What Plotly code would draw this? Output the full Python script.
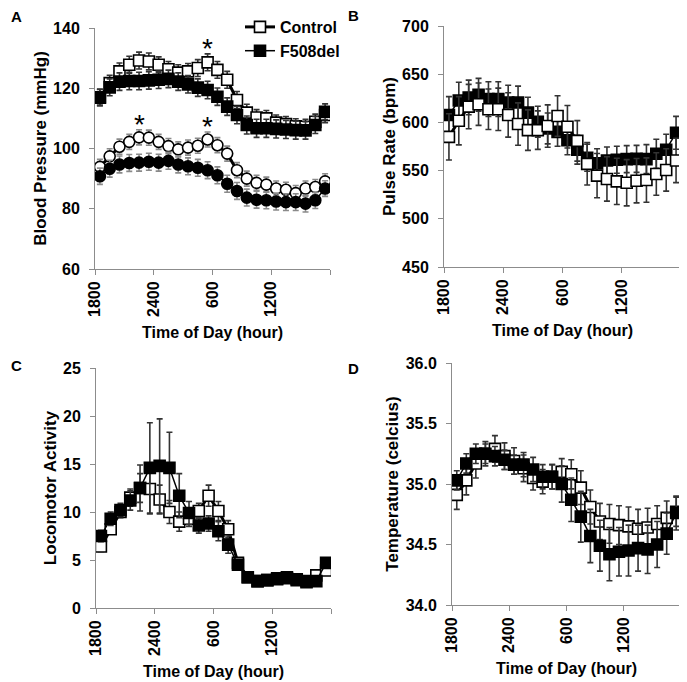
import plotly.graph_objects as go
from plotly.subplots import make_subplots

# hours since 1800, one reading per hour
hours = [i + 0.5 for i in range(24)]
tick_pos = [0, 6, 12, 18, 24]
tick_txt = ["1800", "2400", "600", "1200", ""]

# A - blood pressure (mmHg)
sys_ctrl = [117.0, 121.7, 125.6, 127.8, 129.2, 128.9, 127.8, 126.3, 125.2, 125.6, 126.7, 128.6,
            126.1, 122.8, 116.1, 111.9, 110.3, 110.0, 108.6, 108.1, 107.4, 107.2, 108.9, 111.1]
sys_ctrl_err = [2.6, 2.6, 2.8, 2.8, 2.8, 2.8, 2.6, 2.6, 2.6, 2.6, 2.8, 2.8,
                2.8, 2.8, 2.8, 2.8, 2.6, 2.6, 2.5, 2.5, 2.5, 2.5, 2.5, 2.5]
sys_f508 = [116.9, 120.3, 122.2, 122.4, 122.4, 122.6, 122.8, 123.1, 122.2, 121.3, 120.2, 119.4,
            117.2, 113.9, 111.1, 107.8, 106.7, 106.7, 106.5, 106.3, 106.1, 106.0, 107.8, 112.2]
sys_f508_err = [2.8, 2.8, 2.9, 2.9, 2.9, 2.9, 2.9, 2.9, 2.9, 2.9, 2.9, 2.9,
                2.9, 2.9, 2.9, 3.0, 3.0, 3.0, 3.0, 3.0, 3.0, 2.9, 2.8, 2.6]
dia_ctrl = [93.9, 97.4, 100.6, 102.2, 103.7, 103.6, 102.2, 100.8, 99.7, 100.3, 100.9, 103.0,
            101.1, 98.3, 92.8, 90.0, 88.6, 88.0, 86.7, 86.3, 85.2, 86.7, 87.2, 89.1]
dia_ctrl_err = [2.5, 2.5, 2.5, 2.5, 2.5, 2.5, 2.5, 2.5, 2.5, 2.5, 2.5, 2.5,
                2.5, 2.5, 2.5, 2.5, 2.5, 2.5, 2.5, 2.5, 2.5, 2.5, 2.5, 2.5]
dia_f508 = [90.8, 93.3, 94.7, 95.2, 95.3, 95.6, 95.3, 95.9, 94.7, 94.1, 93.6, 92.8,
            91.1, 88.3, 85.9, 83.7, 83.0, 82.8, 82.4, 82.2, 82.2, 81.7, 82.8, 86.7]
dia_f508_err = [2.7, 2.8, 2.8, 2.8, 2.8, 2.8, 2.8, 2.8, 2.8, 2.8, 2.8, 2.8,
                2.8, 2.8, 2.8, 2.8, 2.8, 2.8, 2.8, 2.8, 2.8, 2.8, 2.7, 2.6]
sig_sys = [11]
sig_dia = [4, 11]

# B - pulse rate (bpm)
pr_ctrl = [585.0, 601.7, 616.4, 618.9, 613.6, 613.6, 607.7, 598.3, 592.0, 592.0, 596.2, 606.6,
           595.5, 580.8, 557.0, 544.8, 541.3, 538.8, 537.4, 539.5, 540.2, 546.5, 550.7, 560.5]
pr_ctrl_err = [24, 25, 23, 22, 21, 22, 23, 22, 21, 20, 22, 21,
               22, 21, 22, 23, 23, 24, 24, 23, 23, 22, 22, 23]
pr_f508 = [607.7, 622.7, 625.9, 628.7, 624.1, 624.1, 620.6, 620.6, 610.1, 600.7, 593.7, 590.2,
           581.5, 571.7, 563.3, 557.7, 560.5, 561.2, 561.9, 562.2, 561.9, 567.5, 571.7, 589.2]
pr_f508_err = [19, 19, 18, 17, 18, 18, 18, 17, 16, 16, 16, 15,
               15, 15, 14, 15, 14, 14, 14, 14, 15, 15, 16, 17]

# C - locomotor activity
la_ctrl = [6.4, 8.2, 10.0, 11.5, 12.5, 12.4, 11.3, 10.0, 9.0, 9.3, 10.1, 11.7,
           10.1, 8.2, 4.7, 3.2, 2.8, 2.9, 3.0, 3.1, 2.9, 2.8, 3.4, 3.9]
la_ctrl_err = [0.5, 0.5, 0.6, 0.9, 2.4, 2.6, 1.5, 1.2, 1.0, 0.8, 0.8, 1.1,
               1.0, 0.9, 0.4, 0.3, 0.3, 0.3, 0.3, 0.3, 0.3, 0.3, 0.3, 0.4]
la_f508 = [7.5, 9.3, 10.2, 11.2, 12.5, 14.6, 14.8, 14.6, 11.7, 9.9, 8.6, 8.8,
           8.0, 6.6, 4.5, 3.2, 2.8, 2.9, 3.1, 3.2, 3.0, 2.7, 2.8, 4.7]
la_f508_err = [0.6, 0.7, 0.7, 1.0, 1.5, 4.7, 4.9, 3.7, 2.3, 1.2, 0.8, 0.8,
               1.0, 0.9, 0.5, 0.3, 0.3, 0.3, 0.3, 0.3, 0.3, 0.3, 0.3, 0.4]

# D - temperature (celcius)
tp_ctrl = [34.91, 35.03, 35.17, 35.25, 35.29, 35.23, 35.19, 35.13, 35.05, 35.02, 35.06, 35.10,
           35.08, 34.97, 34.81, 34.69, 34.67, 34.66, 34.65, 34.63, 34.64, 34.67, 34.72, 34.77]
tp_ctrl_err = [0.12, 0.12, 0.12, 0.10, 0.11, 0.11, 0.11, 0.11, 0.10, 0.10, 0.10, 0.11,
               0.12, 0.14, 0.14, 0.15, 0.16, 0.16, 0.16, 0.16, 0.16, 0.15, 0.14, 0.12]
tp_f508 = [35.03, 35.17, 35.25, 35.25, 35.23, 35.20, 35.16, 35.16, 35.12, 35.06, 35.06, 35.00,
           34.87, 34.73, 34.57, 34.49, 34.42, 34.44, 34.45, 34.47, 34.46, 34.50, 34.59, 34.76]
tp_f508_err = [0.08, 0.08, 0.08, 0.08, 0.08, 0.08, 0.08, 0.10, 0.10, 0.10, 0.10, 0.15,
               0.18, 0.21, 0.22, 0.21, 0.22, 0.20, 0.21, 0.19, 0.20, 0.19, 0.17, 0.14]

FONT = "Liberation Sans, Arial, sans-serif"
AXC = "#8c8c8c"

# page body has an 8px margin, so the figure is a bit smaller than the window
OFF = 8
W, H = 687 - OFF, 682 - OFF


def px(x):
    return (x - OFF) / W


def py(y):
    return 1 - (y - OFF) / H


fig = make_subplots(rows=2, cols=2)


def series(y, err, row, col, filled, symbol="square", name=None, legend=False,
           errcol="#333333", lw=1.5):
    fig.add_trace(go.Scatter(
        x=hours, y=y, mode="lines+markers", name=name, showlegend=legend,
        line=dict(color="black", width=lw),
        marker=dict(symbol=symbol, size=11, color="black" if filled else "white",
                    line=dict(color="black", width=1.6)),
        error_y=dict(type="data", array=err, color=errcol, thickness=1.6, width=3),
    ), row=row, col=col)


# A
series(dia_ctrl, dia_ctrl_err, 1, 1, False, "circle", errcol="#8a8a8a", lw=3)
series(dia_f508, dia_f508_err, 1, 1, True, "circle", errcol="#8a8a8a")
series(sys_ctrl, sys_ctrl_err, 1, 1, False, name="Control", legend=True, lw=3)
series(sys_f508, sys_f508_err, 1, 1, True, name="F508del", legend=True)
# B
series(pr_f508, pr_f508_err, 1, 2, True)
series(pr_ctrl, pr_ctrl_err, 1, 2, False, lw=3)
# C
series(la_ctrl, la_ctrl_err, 2, 1, False, lw=3)
series(la_f508, la_f508_err, 2, 1, True)
# D
series(tp_ctrl, tp_ctrl_err, 2, 2, False, lw=3)
series(tp_f508, tp_f508_err, 2, 2, True)

star_font = dict(family=FONT, size=28, color="black")
for i in sig_sys:
    fig.add_annotation(x=hours[i], y=sys_ctrl[i] + sys_ctrl_err[i], text="*", showarrow=False,
                       yanchor="bottom", yshift=-12, font=star_font, xref="x", yref="y")
for i in sig_dia:
    fig.add_annotation(x=hours[i], y=dia_ctrl[i] + dia_ctrl_err[i], text="*", showarrow=False,
                       yanchor="bottom", yshift=-12, font=star_font, xref="x", yref="y")

doms = {
    1: ([95, 330], [28, 269]),
    2: ([444, 681], [26, 267]),
    3: ([96, 331], [368, 608]),
    4: ([452, 681], [363, 605]),
}
yspec = {
    1: ("Blood Pressure (mmHg)", [60, 140], [60, 80, 100, 120, 140], None),
    2: ("Pulse Rate (bpm)", [450, 700], [450, 500, 550, 600, 650, 700], None),
    3: ("Locomotor Activity", [0, 25], [0, 5, 10, 15, 20, 25], None),
    4: ("Temperature (celcius)", [34, 36], [34, 34.5, 35, 35.5, 36], ".1f"),
}
tickfont = dict(family=FONT, size=16, color="black", weight="bold")
xtitlefont = dict(family=FONT, size=16, color="black", weight="bold")
ytitlefont = dict(family=FONT, size=17, color="black", weight="bold")

for k in range(1, 5):
    (x0, x1), (yt, yb) = doms[k]
    sfx = "" if k == 1 else str(k)
    title, rng, tv, fmt = yspec[k]
    fig.layout["xaxis" + sfx].update(
        domain=[px(x0), px(x1)], range=[0, 24], tickvals=tick_pos, ticktext=tick_txt,
        tickangle=-90, ticks="outside", ticklen=5, tickcolor=AXC, showline=True,
        linecolor=AXC, linewidth=1, showgrid=False, zeroline=False, tickfont=tickfont,
        automargin=False,
        title=dict(text="Time of Day (hour)", font=xtitlefont, standoff=10))
    fig.layout["yaxis" + sfx].update(
        domain=[py(yb), py(yt)], range=rng, tickvals=tv, ticks="outside",
        ticklen=5, tickcolor=AXC, showline=True, linecolor=AXC, linewidth=1,
        showgrid=False, zeroline=False, tickfont=tickfont, tickformat=fmt,
        ticklabelstandoff=6, automargin=False,
        title=dict(text=title, font=ytitlefont, standoff=2))

for lab, lx, ly in [("A", 9, 6), ("B", 346, 5), ("C", 9, 355), ("D", 346, 358)]:
    fig.add_annotation(x=px(lx), y=py(ly), xref="paper", yref="paper", text=lab,
                       xanchor="left", yanchor="top", showarrow=False,
                       font=dict(family=FONT, size=15, color="black", weight="bold"))

fig.update_layout(
    width=W, height=H, margin=dict(l=0, r=0, t=0, b=0),
    plot_bgcolor="white", paper_bgcolor="white",
    legend=dict(x=px(240), y=py(10), xanchor="left", yanchor="top",
                font=dict(family=FONT, size=16, color="black", weight="bold"),
                bgcolor="rgba(0,0,0,0)", tracegroupgap=0, itemwidth=30),
)

fig.write_html("out.html")
